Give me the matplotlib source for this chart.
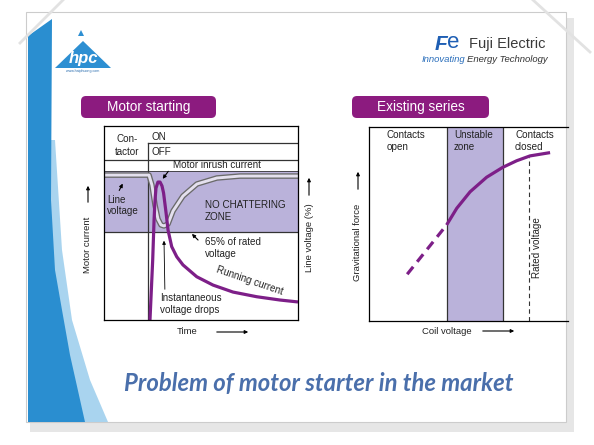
import numpy as np
import matplotlib
matplotlib.use("Agg")
import matplotlib.pyplot as plt
from matplotlib.patches import Polygon, FancyBboxPatch, Rectangle

plt.rcParams['font.family'] = ['Liberation Sans', 'DejaVu Sans']

# --- left chart: motor starting (time 0..100, level 0..100) ---
t_on = 22.7
onoff_row = 91.2
contactor_row = 82.5
zone_top = 76.8
zone_bottom = 45.4

volt_t = [0, 23.2, 24.7, 26.3, 27.8, 29.4, 30.9, 33.0, 35.6, 40.7, 47.9, 58.2, 70.1, 100]
volt_v = [74.7, 74.7, 69.6, 59.3, 52.1, 49.0, 48.5, 49.5, 56.2, 63.9, 70.1, 73.2, 74.2, 74.2]

curr_t = [23.7, 25.1, 25.8, 26.3, 26.8, 27.8, 28.9, 29.9, 30.7, 32.0, 33.0, 34.9,
          37.5, 40.7, 47.8, 56.2, 66.5, 78.7, 90.7, 100]
curr_v = [0, 30.9, 51.5, 61.9, 68.0, 71.1, 71.1, 69.1, 65.5, 55.2, 46.4, 37.8,
          32.6, 28.4, 22.3, 18.0, 14.4, 12.0, 10.3, 9.3]

# --- right chart: existing series (coil voltage 0..100, force 0..100) ---
unstable_lo = 39.3
unstable_hi = 67.2
rated = 80.6
rated_top = 84.7
force_dash_x = [19.2, 39.0]
force_dash_y = [24.1, 49.5]
force_x = [39.0, 44.1, 50.8, 59.1, 67.2, 74.2, 80.9, 91.0]
force_y = [49.5, 58.1, 66.6, 74.1, 79.2, 82.6, 85.1, 86.8]

PURPLE = '#7d1f88'
SHADE = '#bab2da'
BTN = '#8c1b7f'

W, H = 594, 445
fig = plt.figure(figsize=(W / 100, H / 100), dpi=100)
fig.patch.set_facecolor('white')

bg = fig.add_axes([0, 0, 1, 1])
bg.set_xlim(0, W)
bg.set_ylim(H, 0)
bg.axis('off')

# slide panel + shadow
bg.add_patch(Rectangle((30, 18), 544, 414, fc='#e6e6e6', ec='none'))
bg.add_patch(Rectangle((26, 12), 540, 410, fc='white', ec='#cccccc', lw=0.8))
bg.plot([20, 63], [43, 0], color='#e2e2e2', lw=2)
bg.plot([533, 590], [0, 52], color='#e2e2e2', lw=2)

# blue side bar
bg.add_patch(Polygon([(50, 140), (55, 140), (62, 250), (72, 320), (90, 380), (108, 422),
                      (80, 422), (52, 300)], closed=True, fc='#a9d4ef', ec='none'))
bg.add_patch(Polygon([(28, 36), (52, 19), (51, 200), (55, 270), (62, 310), (70, 355),
                      (85, 422), (28, 422)], closed=True, fc='#2a8ed0', ec='none'))

# hpc logo
bg.add_patch(Polygon([(55, 68), (111, 68), (83, 41)], closed=True, fc='#2d8fd2', ec='none'))
bg.add_patch(Polygon([(78, 36), (84, 36), (81, 30)], closed=True, fc='#2d8fd2', ec='none'))
bg.text(83, 58, 'hpc', color='white', fontsize=12, fontweight='bold', style='italic',
        ha='center', va='center')
bg.text(83, 71, 'www.haiphuong.com', color='#2d6fb0', fontsize=2.6, ha='center', va='center')

# Fuji Electric logo
bg.text(435, 44, 'F', color='#1f5fb4', fontsize=15, fontweight='heavy', style='italic',
        ha='left', va='center')
bg.text(447, 43, 'e', color='#1f5fb4', fontsize=16, fontweight='light',
        ha='left', va='center')
bg.text(469, 44, 'Fuji Electric', color='#3a3a3a', fontsize=10.5, ha='left', va='center')
bg.text(465, 60, 'Innovating', color='#2a6ebb', fontsize=6.8, style='italic',
        ha='right', va='center')
bg.text(467, 60, 'Energy Technology', color='#333333', fontsize=6.8, style='italic',
        ha='left', va='center')

# section buttons
for x0, x1, label in [(77, 220, 'Motor starting'), (348, 493, 'Existing series')]:
    bg.add_patch(FancyBboxPatch((x0 + 4, 96), x1 - x0 - 8, 22,
                                boxstyle='round,pad=0,rounding_size=5', fc=BTN, ec='none'))
    bg.text((x0 + x1) / 2, 107.5, label, color='white', fontsize=9.8,
            ha='center', va='center')

# outside axis labels with arrows
lab = dict(fontsize=6.8, color='#222222', ha='center', va='center')
arw = dict(arrowstyle='-|>', lw=0.8, color='k', mutation_scale=5)
bg.text(88, 245, 'Motor current', rotation=90, **lab)
bg.annotate('', xy=(88, 183), xytext=(88, 205), arrowprops=arw)
bg.text(309, 238, 'Line voltage (%)', rotation=90, **lab)
bg.annotate('', xy=(309, 175), xytext=(309, 198), arrowprops=arw)
bg.text(187, 332, 'Time', **lab)
bg.annotate('', xy=(251, 332), xytext=(214, 332), arrowprops=arw)
bg.text(358, 242, 'Gravitational force', rotation=90, **lab)
bg.annotate('', xy=(358, 169), xytext=(358, 192), arrowprops=arw)
bg.text(447, 331, 'Coil voltage', **lab)
bg.annotate('', xy=(517, 331), xytext=(480, 331), arrowprops=arw)

# title
bg.text(319, 383, 'Problem of motor starter in the market', color='#4a6fab',
        fontsize=17.2, fontweight='bold', style='italic', family='Lato',
        ha='center', va='center')

# ---- left chart ----
ax1 = fig.add_axes([104 / W, (H - 320) / H, 194 / W, 194 / H])
ax1.set_xlim(0, 100)
ax1.set_ylim(0, 100)
ax1.set_facecolor('none')
ax1.set_xticks([])
ax1.set_yticks([])
for s in ax1.spines.values():
    s.set_linewidth(0.9)
ax1.axhspan(zone_bottom, zone_top, color=SHADE, lw=0)
ax1.axhline(zone_bottom, color='#333333', lw=0.9)
ax1.axhline(zone_top, color='#333333', lw=0.6)
ax1.axhline(contactor_row, color='#333333', lw=0.9)
ax1.plot([t_on, 100], [onoff_row, onoff_row], color='#333333', lw=0.9)
ax1.plot([t_on, t_on], [0, onoff_row], color='#333333', lw=0.9)
ax1.plot(volt_t, volt_v, color='#6a6a6a', lw=4.0, solid_joinstyle='round')
ax1.plot(volt_t, volt_v, color='#e4e0ee', lw=2.1, solid_joinstyle='round')
ax1.plot(curr_t, curr_v, color=PURPLE, lw=2.3, solid_joinstyle='round', solid_capstyle='butt')

txt = dict(fontsize=7.1, color='#222222')
ax1.text(11.9, 93.3, 'Con-', ha='center', va='center', **txt)
ax1.text(11.9, 86.6, 'tactor', ha='center', va='center', **txt)
ax1.text(24.7, 94.3, 'ON', ha='left', va='center', **txt)
ax1.text(24.7, 86.6, 'OFF', ha='left', va='center', **txt)
ax1.text(35.6, 79.9, 'Motor inrush current', ha='left', va='center', **txt)
ax1.text(1.5, 61.9, 'Line', ha='left', va='center', **txt)
ax1.text(1.5, 56.2, 'voltage', ha='left', va='center', **txt)
ax1.text(52.1, 59.3, 'NO CHATTERING', ha='left', va='center', **txt)
ax1.text(52.1, 53.1, 'ZONE', ha='left', va='center', **txt)
ax1.text(52.1, 40.2, '65% of rated', ha='left', va='center', **txt)
ax1.text(52.1, 34.0, 'voltage', ha='left', va='center', **txt)
ax1.text(75.3, 20.3, 'Running current', ha='center', va='center', rotation=-19, **txt)
ax1.text(28.9, 11.3, 'Instantaneous', ha='left', va='center', **txt)
ax1.text(28.9, 5.2, 'voltage drops', ha='left', va='center', **txt)
ax1.annotate('', xy=(29.4, 71.6), xytext=(34.0, 77.8), arrowprops=arw)
ax1.annotate('', xy=(10.3, 71.6), xytext=(7.2, 65.5), arrowprops=arw)
ax1.annotate('', xy=(44.3, 45.4), xytext=(49.5, 40.2), arrowprops=arw)
ax1.annotate('', xy=(30.9, 42.3), xytext=(31.4, 14.4), arrowprops=dict(arw, lw=0.6))

# ---- right chart ----
ax2 = fig.add_axes([369 / W, (H - 321) / H, 199 / W, 194 / H])
ax2.set_xlim(0, 100)
ax2.set_ylim(0, 100)
ax2.set_facecolor('none')
ax2.set_xticks([])
ax2.set_yticks([])
ax2.spines['right'].set_visible(False)
for s in ['left', 'top', 'bottom']:
    ax2.spines[s].set_linewidth(0.9)
ax2.axvspan(unstable_lo, unstable_hi, color=SHADE, lw=0)
ax2.axvline(unstable_lo, color='#333333', lw=0.9)
ax2.axvline(unstable_hi, color='#333333', lw=0.9)
ax2.plot([rated, rated], [0, rated_top], color='#333333', lw=0.8, ls=(0, (4, 3)))
ax2.plot(force_dash_x, force_dash_y, color=PURPLE, lw=2.3, ls=(0, (3, 2)))
ax2.plot(force_x, force_y, color=PURPLE, lw=2.3, solid_capstyle='butt')

ax2.text(9.0, 95.9, 'Contacts', ha='left', va='center', **txt)
ax2.text(9.0, 89.7, 'open', ha='left', va='center', **txt)
ax2.text(42.7, 95.9, 'Unstable', ha='left', va='center', **txt)
ax2.text(42.7, 89.7, 'zone', ha='left', va='center', **txt)
ax2.text(73.4, 95.9, 'Contacts', ha='left', va='center', **txt)
ax2.text(73.4, 89.7, 'closed', ha='left', va='center', **txt)
ax2.text(84.2, 38.1, 'Rated voltage', ha='center', va='center', rotation=90, **txt)

fig.savefig('out.png', dpi=100)
